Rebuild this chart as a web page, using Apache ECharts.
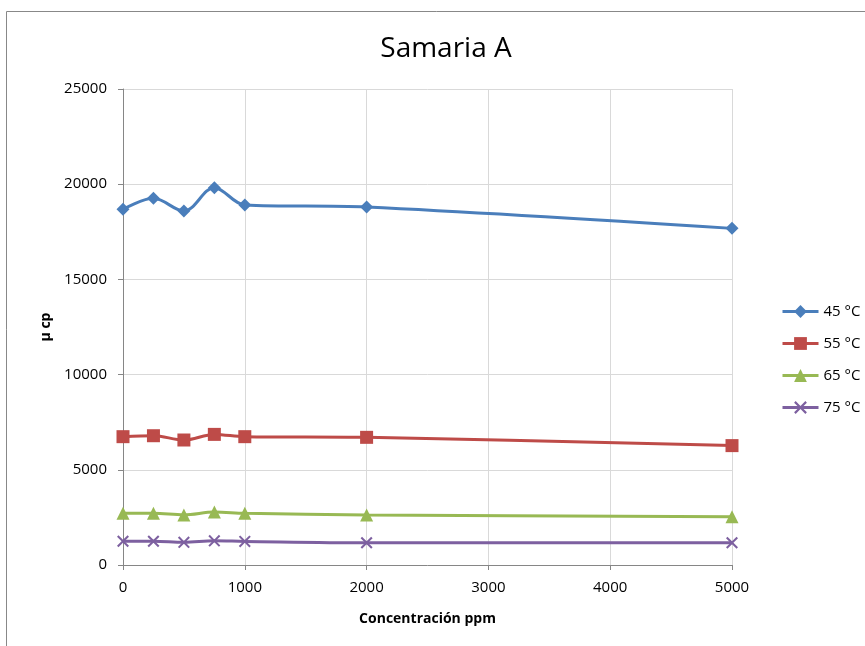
<!DOCTYPE html>
<html><head><meta charset="utf-8">
<script src="https://cdn.jsdelivr.net/npm/echarts@6/dist/echarts.min.js"></script>
<style>html,body{margin:0;padding:0;background:#fff}#c{width:865px;height:646px}</style>
</head><body><div id="c"></div>
<script>
const xValues = [0, 250, 500, 750, 1000, 2000, 5000];
const s45 = [18680, 19260, 18590, 19820, 18910, 18800, 17680];
const s55 = [6740, 6790, 6565, 6860, 6740, 6705, 6270];
const s65 = [2715, 2715, 2630, 2780, 2715, 2630, 2540];
const s75 = [1250, 1250, 1190, 1270, 1240, 1170, 1170];
const seriesNames = ['45 °C', '55 °C', '65 °C', '75 °C'];
const xTitle = 'Concentración ppm';
const yTitle = 'µ cp';
const chartTitle = 'Samaria A';

const colors = ['#4A7EBB', '#BE4B48', '#98B954', '#7D60A0'];
const xPath = 'path://M0,1.2L1.2,0L5,3.8L8.8,0L10,1.2L6.2,5L10,8.8L8.8,10L5,6.2L1.2,10L0,8.8L3.8,5Z';
const symbols = ['diamond', 'rect', 'triangle', xPath];
const sizes = [13, 13, 13, 12];
const data = [s45, s55, s65, s75];

const chart = echarts.init(document.getElementById('c'));
chart.setOption({
  animation: false,
  color: colors,
  title: {text: chartTitle, left: 441, top: 30, textAlign: 'center',
    textStyle: {fontFamily: 'Open Sans', fontWeight: 'normal', fontSize: 28, color: '#000'}},
  graphic: [{type: 'rect', shape: {x: 6.5, y: 11.5, width: 900, height: 700},
    style: {fill: 'none', stroke: '#888', lineWidth: 1}, z: -1}],
  legend: {orient: 'vertical', left: 776, top: 299, itemGap: 17, itemWidth: 36, itemHeight: 16,
    lineStyle: {width: 3},
    textStyle: {fontFamily: 'Open Sans', fontSize: 15, color: '#000'},
    data: seriesNames},
  grid: {left: 123, right: 133, top: 89, bottom: 81},
  xAxis: {type: 'value', min: 0, max: 5000, interval: 1000,
    name: xTitle, nameLocation: 'middle', nameGap: 47,
    nameTextStyle: {fontFamily: 'Open Sans', fontWeight: 'bold', fontSize: 14, color: '#000'},
    axisLine: {show: true, lineStyle: {color: '#868686'}},
    axisTick: {show: true, length: 5, lineStyle: {color: '#868686'}},
    axisLabel: {fontFamily: 'Open Sans', fontSize: 15, color: '#000', margin: 15,
      formatter: v => String(v)},
    splitLine: {show: true, lineStyle: {color: '#d9d9d9'}}},
  yAxis: {type: 'value', min: 0, max: 25000, interval: 5000,
    name: yTitle, nameLocation: 'middle', nameGap: 70, nameRotate: 90,
    nameTextStyle: {fontFamily: 'Open Sans', fontWeight: 'bold', fontSize: 14, color: '#000'},
    axisLine: {show: true, lineStyle: {color: '#868686'}},
    axisTick: {show: true, length: 5, lineStyle: {color: '#868686'}},
    axisLabel: {fontFamily: 'Open Sans', fontSize: 15, color: '#000', margin: 16,
      formatter: v => String(v)},
    splitLine: {show: true, lineStyle: {color: '#d9d9d9'}}},
  series: data.map((d, i) => ({
    name: seriesNames[i], type: 'line', smooth: 0.35,
    data: xValues.map((x, j) => [x, d[j]]),
    symbol: symbols[i], symbolSize: sizes[i],
    lineStyle: {width: 3, color: colors[i]},
    itemStyle: {color: colors[i]}
  }))
});
</script></body></html>
